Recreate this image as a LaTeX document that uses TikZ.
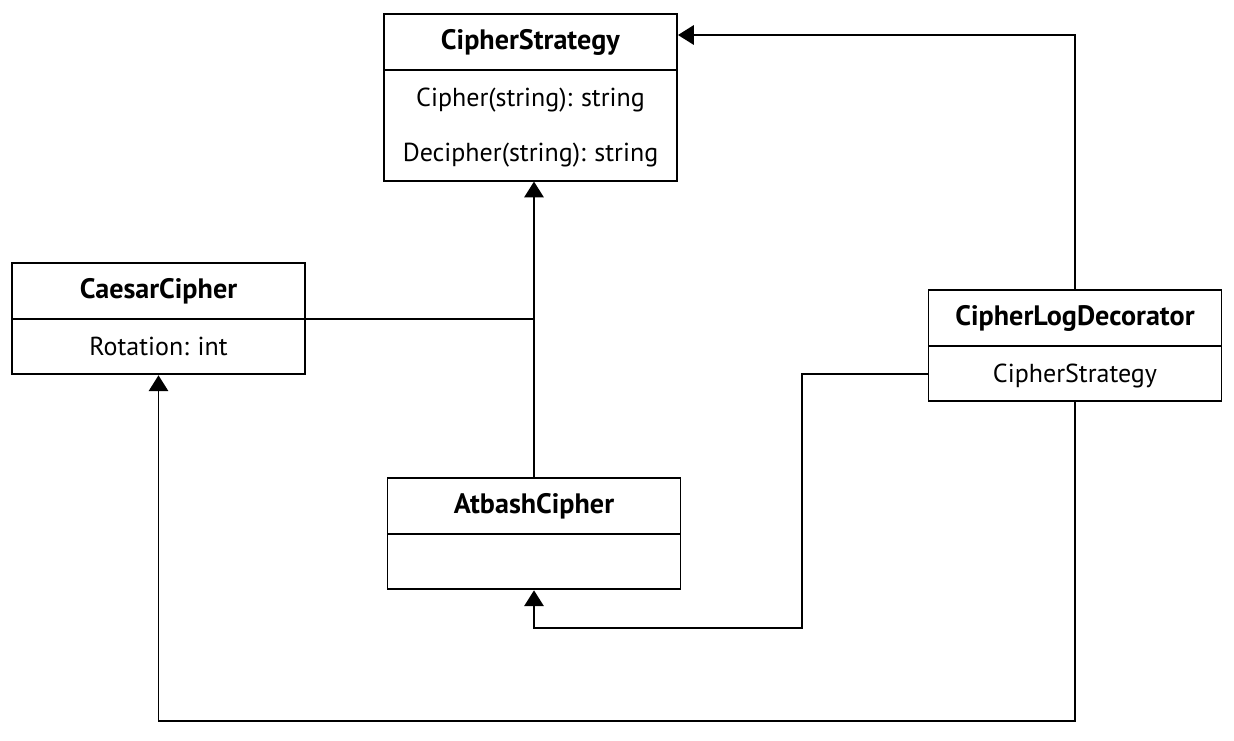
\documentclass[tikz,border=0pt]{standalone}
\usepackage{fontspec}
\setmainfont{PT Sans}
\usepackage{tikz}
\usetikzlibrary{calc,shapes.multipart,arrows.meta,positioning}

\newcommand{\clsname}[1]{\rule[-0.38cm]{0pt}{1.08cm}{\fontsize{16}{18}\selectfont\textbf{#1}}}
\newcommand{\clsfield}[1]{\setlength{\lineskip}{0pt}\rule[-0.36cm]{0pt}{1.07cm}#1}

\begin{document}
\begin{tikzpicture}[line width=1.1pt,
    umlclass/.style={rectangle split, rectangle split parts=2, draw, anchor=north,
        text width=5.86cm, align=center, inner xsep=0pt, inner ysep=0pt,
        font=\fontsize{14.8}{17}\selectfont\frenchspacing},
    inherit/.style={-{Triangle[width=11pt,length=9pt]}}]

    \useasboundingbox (0,0) rectangle (24.68,-14.8);

    \node[umlclass] (CS) at (10.61,-0.26) {\clsname{CipherStrategy}
        \nodepart{second}\clsfield{Cipher(string): string}\\\clsfield{Decipher(string): string}};
    \node[umlclass] (CC) at (3.17,-5.24) {\clsname{CaesarCipher}
        \nodepart{second}\clsfield{Rotation: int}};
    \node[umlclass] (AC) at (10.68,-9.54) {\clsname{AtbashCipher}
        \nodepart{second}\clsfield{}};
    \node[umlclass] (LD) at (21.5,-5.78) {\clsname{CipherLogDecorator}
        \nodepart{second}\clsfield{CipherStrategy}};

    \coordinate (turn) at (16.04,-12.56);
    \coordinate (bottom) at (0,-14.42);

    \draw[inherit] (AC.north) -- (AC.north |- CS.south);
    \draw (CC.text split east) -- (CC.text split east -| AC.north);
    \draw[inherit] (LD.north) |- ([yshift=-0.44cm]CS.north east);
    \draw[inherit] ($(LD.text split west)!0.5!(LD.south west)$) -| (turn) -| (AC.south);
    \draw[inherit] (LD.south) |- (CC.south |- bottom) -- (CC.south);

\end{tikzpicture}
\end{document}
